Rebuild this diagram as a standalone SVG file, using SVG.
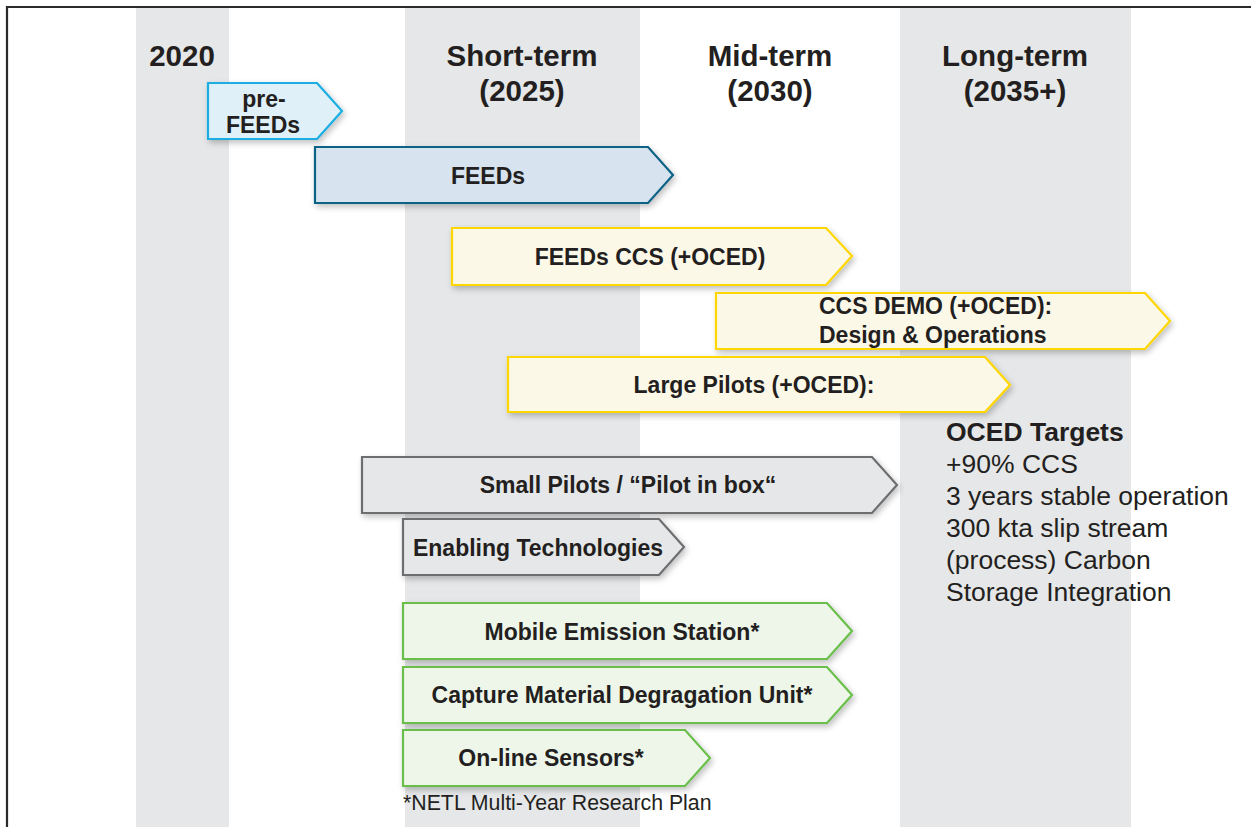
<svg xmlns="http://www.w3.org/2000/svg" width="1251" height="827" viewBox="0 0 1251 827">
<defs>
<filter id="sh" x="-10%" y="-20%" width="125%" height="160%">
<feGaussianBlur in="SourceAlpha" stdDeviation="3"/>
<feOffset dx="2" dy="3" result="b"/>
<feComponentTransfer><feFuncA type="linear" slope="0.25"/></feComponentTransfer>
<feMerge><feMergeNode/><feMergeNode in="SourceGraphic"/></feMerge>
</filter>
<style>
.band{fill:#e6e7e8}
.hdr{font-family:"Liberation Sans",Arial,sans-serif;font-weight:bold;font-size:29.5px;fill:#231f20;text-anchor:middle}
.lbl{font-family:"Liberation Sans",Arial,sans-serif;font-weight:bold;font-size:23px;fill:#231f20;text-anchor:middle}
.arr{stroke-width:2.2;stroke-linejoin:miter;filter:url(#sh)}
.blue1{fill:#dff0f9;stroke:#1aaee3}
.blue2{fill:#d7e3ee;stroke:#0f6386}
.yel{fill:#fcf8e8;stroke:#fed600}
.gry{fill:#e6e7e8;stroke:#6d6e70}
.grn{fill:#eef6ea;stroke:#6abf4b}
.tgt{font-family:"Liberation Sans",Arial,sans-serif;font-size:26.5px;fill:#231f20}
.foot{font-family:"Liberation Sans",Arial,sans-serif;font-size:21.3px;fill:#231f20}
</style>
</defs>
<rect x="0" y="0" width="1251" height="827" fill="#ffffff"/>
<g id="bands">
<rect class="band" x="136" y="7" width="93" height="820"/>
<rect class="band" x="405" y="7" width="235" height="820"/>
<rect class="band" x="900" y="7" width="231" height="820"/>
</g>
<g id="frame" stroke="#2b2b2b" stroke-width="2.2" fill="none">
<line x1="6" y1="7" x2="1251" y2="7"/>
<line x1="7" y1="6" x2="7" y2="827"/>
</g>
<g id="headers">
<text class="hdr" x="182" y="66">2020</text>
<text class="hdr" x="522" y="66">Short-term</text>
<text class="hdr" x="522" y="101">(2025)</text>
<text class="hdr" x="770" y="66">Mid-term</text>
<text class="hdr" x="770" y="101">(2030)</text>
<text class="hdr" x="1015" y="66">Long-term</text>
<text class="hdr" x="1015" y="101">(2035+)</text>
</g>
<g id="connectors"></g>
<g id="pre-feeds">
<polygon class="arr blue1" points="208,83 317,83 342,111 317,139 208,139"/>
<text class="lbl" x="264" y="107">pre-</text>
<text class="lbl" x="263" y="133">FEEDs</text>
</g>
<g id="feeds">
<polygon class="arr blue2" points="315,147 648,147 673,175 648,203 315,203"/>
<text class="lbl" x="488" y="184">FEEDs</text>
</g>
<g id="feeds-ccs">
<polygon class="arr yel" points="452,228 826,228 852,256 826,285 452,285"/>
<text class="lbl" x="650" y="265">FEEDs CCS (+OCED)</text>
</g>
<g id="ccs-demo">
<polygon class="arr yel" points="716,293 1145,293 1170,321 1145,349 716,349"/>
<text class="lbl" x="819" y="314" style="text-anchor:start">CCS DEMO (+OCED):</text>
<text class="lbl" x="819" y="343" style="text-anchor:start">Design &amp; Operations</text>
</g>
<g id="large-pilots">
<polygon class="arr yel" points="508,357 985,357 1010,385 985,412 508,412"/>
<text class="lbl" x="754" y="393">Large Pilots (+OCED):</text>
</g>
<g id="oced-targets">
<text class="tgt" x="946" y="441" font-weight="bold">OCED Targets</text>
<text class="tgt" x="946" y="473">+90% CCS</text>
<text class="tgt" x="946" y="505">3 years stable operation</text>
<text class="tgt" x="946" y="537">300 kta slip stream</text>
<text class="tgt" x="946" y="569">(process) Carbon</text>
<text class="tgt" x="946" y="601">Storage Integration</text>
</g>
<g id="small-pilots">
<polygon class="arr gry" points="362,457 872,457 897,485 872,513 362,513"/>
<text class="lbl" x="628" y="493">Small Pilots / “Pilot in box“</text>
</g>
<g id="enabling">
<polygon class="arr gry" points="403,519 659,519 684,547 659,575 403,575"/>
<text class="lbl" x="538" y="556">Enabling Technologies</text>
</g>
<g id="mobile-emission">
<polygon class="arr grn" points="403,603 827,603 852,631 827,659 403,659"/>
<text class="lbl" x="622" y="640">Mobile Emission Station*</text>
</g>
<g id="capture-material">
<polygon class="arr grn" points="403,667 827,667 852,695 827,723 403,723"/>
<text class="lbl" x="622" y="703">Capture Material Degragation Unit*</text>
</g>
<g id="online-sensors">
<polygon class="arr grn" points="403,730 685,730 710,758 685,786 403,786"/>
<text class="lbl" x="551" y="766">On-line Sensors*</text>
</g>
<g id="footnote">
<text class="foot" x="403" y="810">*NETL Multi-Year Research Plan</text>
</g>
</svg>
